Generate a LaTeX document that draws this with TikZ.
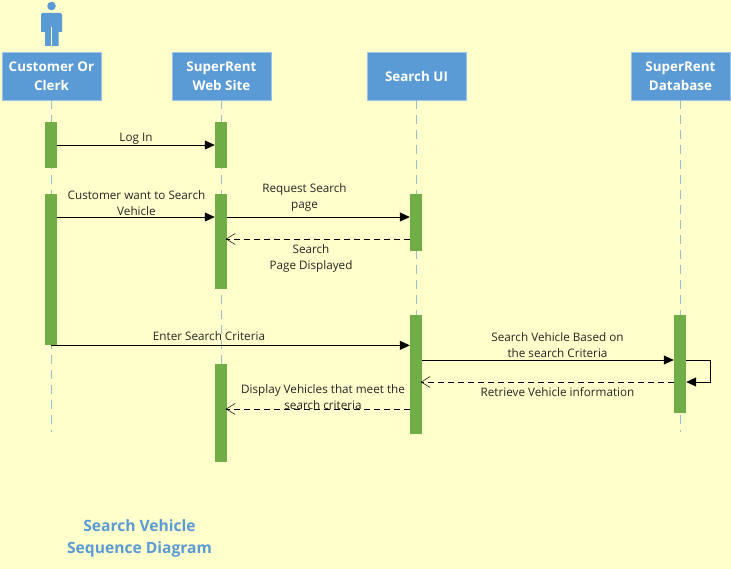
\documentclass[tikz,border=0pt]{standalone}
\usepackage{fontspec}
\setmainfont{Open Sans}
\usetikzlibrary{arrows.meta,calc}
\definecolor{bgc}{HTML}{FFFFCC}
\definecolor{blu}{HTML}{5B9BD5}
\definecolor{grn}{HTML}{70AD47}
\definecolor{lifec}{HTML}{9DBCCB}
\tikzset{
 actorbox/.style={draw=blu!60!white,line width=.5pt,fill=blu,text=white,minimum width=98.5pt,minimum height=48pt,inner sep=0pt,align=center,font=\fontsize{13.4}{19}\selectfont\bfseries},
 bar/.style={fill=grn,draw=none,minimum width=12pt,inner sep=0pt},
 life/.style={draw=lifec,line width=1pt,dash pattern=on 9pt off 6pt},
 msg/.style={draw=black,line width=.8pt,-{Triangle[length=10pt,width=9pt]}},
 ret/.style={draw=black,line width=.7pt,dash pattern=on 6pt off 4pt,shorten >=-1.5pt,-{Straight Barb[length=9pt,width=11pt,line width=.5pt]}},
 lab/.style={align=center,inner sep=0pt,font=\fontsize{11.7}{16}\selectfont,text=black!85},
 ttl/.style={align=center,inner sep=0pt,text=blu,font=\fontsize{15.6}{22}\selectfont\bfseries},
}
\begin{document}
\begin{tikzpicture}[x=1pt,y=-1pt]
\useasboundingbox[fill=bgc] (0,0) rectangle (731,569);
% actor
\fill[blu] (51.5,6) circle (4.3);
\fill[blu] (42.5,13) -- (60.5,13) -- (62,14.5) -- (62,32) -- (58.5,32) -- (58.5,46) -- (52.2,46) -- (52.2,27) -- (50.8,27) -- (50.8,46) -- (45,46) -- (45,32) -- (41,32) -- (41,14.5) -- cycle;
% heads
\node[actorbox] (cust) at (51.5,76) {Customer Or\\Clerk};
\node[actorbox] (web) at (221.5,76) {SuperRent\\Web Site};
\node[actorbox] (ui) at (416.5,76) {Search UI};
\node[actorbox] (db) at (680.5,76) {SuperRent\\Database};
% lifeline ends
\coordinate (custend) at (51,432);
\coordinate (webend) at (221,364);
\coordinate (uiend) at (416,315);
\coordinate (dbend) at (680,432);
\draw[life] (cust.south) -- (cust.south |- custend);
\draw[life] (web.south) -- (web.south |- webend);
\draw[life] (ui.south) -- (ui.south |- uiend);
\draw[life] (db.south) -- (db.south |- dbend);
% bars
\newcommand{\barn}[4]{\node[bar,minimum height=#4pt-#3pt,anchor=north] (#1) at (#2,#3) {};}
\barn{c1}{51}{122}{168}
\barn{c2}{51}{194}{345}
\barn{w1}{221}{122}{168}
\barn{w2}{221}{194}{289}
\barn{w3}{221}{364}{462}
\barn{u1}{416}{194}{251}
\barn{u2}{416}{315}{434}
\barn{d1}{680}{315}{413}
% messages
\draw[msg] (c1.east |- 0,145) -- (w1.west |- 0,145);
\node[lab] (m1) at (136,139) {Log In};
\draw[msg] (c2.east |- 0,217) -- (w2.west |- 0,217);
\node[lab] (m2) at (136.5,203.5) {Customer want to Search\\Vehicle};
\draw[msg] (w2.east |- 0,217) -- (u1.west |- 0,217);
\node[lab] (m3) at (304.5,197.5) {Request Search\\page};
\draw[ret] (u1.west |- 0,239) -- (w2.east |- 0,239);
\node[lab] (m4) at (311,258) {Search\\Page Displayed};
\draw[msg] (c2.south east) ++(-6,0) coordinate (c2s) -- (u2.west |- c2s);
\node[lab] (m5) at (209,336.5) {Enter Search Criteria};
\draw[msg] (u2.east |- 0,360) -- (d1.west |- 0,360);
\node[lab] (m6) at (557.5,345.5) {Search Vehicle Based on\\the search Criteria};
\draw[ret] (d1.west |- 0,382) -- (u2.east |- 0,382);
\node[lab] (m7) at (557.5,392.5) {Retrieve Vehicle information};
\draw[msg] (d1.east |- 0,360) -- (710,360) -- (710,382) -- (d1.east |- 0,382);
\draw[ret] (u2.west |- 0,409) -- (w3.east |- 0,409);
\node[lab] (m8) at (323,397) {Display Vehicles that meet the\\search criteria};
% title
\node[ttl] (title) at (139.5,538) {Search Vehicle\\Sequence Diagram};
\end{tikzpicture}
\end{document}
